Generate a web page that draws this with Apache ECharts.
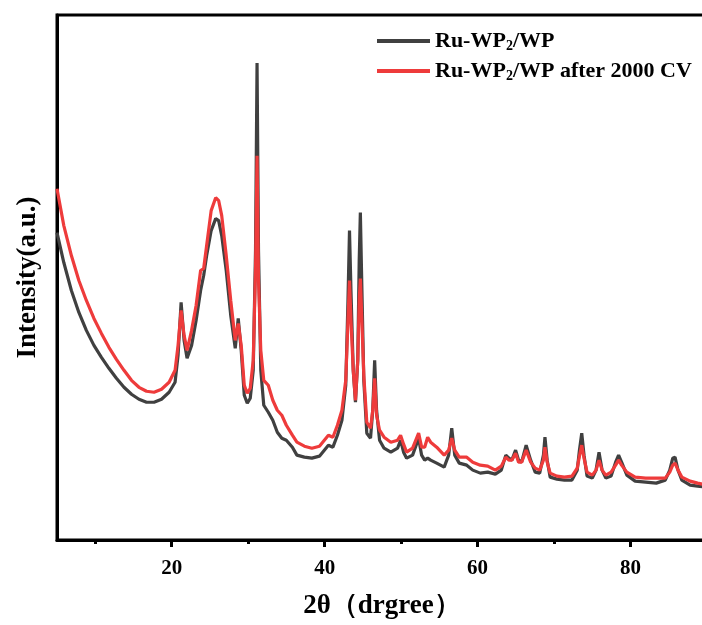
<!DOCTYPE html>
<html>
<head>
<meta charset="utf-8">
<script src="https://cdn.jsdelivr.net/npm/echarts@6/dist/echarts.min.js"></script>
<style>
html,body{margin:0;padding:0;background:#fff;overflow:hidden;}
#chart{width:712px;height:625px;}
</style>
</head>
<body>
<div id="chart"></div>
<script>
// 2θ values (degrees)
var theta = [5,5.89,6.88,7.86,8.84,9.83,10.81,11.79,12.77,13.76,14.74,15.72,16.71,17.69,18.67,19.66,20.44,20.83,21.23,21.62,22.01,22.6,23.19,23.78,24.18,24.57,25.16,25.75,26.14,26.54,27.13,27.72,28.31,28.7,29.09,29.49,29.88,30.27,30.66,30.96,31.16,31.35,31.65,32.04,32.63,33.22,33.81,34.4,34.99,35.78,36.37,37.35,38.33,39.32,40.49,41.08,41.67,42.26,42.76,43.05,43.25,43.44,43.74,44.03,44.33,44.52,44.67,44.82,45.12,45.51,46,46.29,46.54,46.79,47.18,47.77,48.65,49.54,49.93,50.32,50.72,51.5,52.29,52.68,53.08,53.47,53.86,54.65,55.63,56.22,56.62,57.01,57.6,58.58,59.37,60.35,61.33,62.32,63.1,63.69,64.09,64.48,64.97,65.36,65.76,66.35,66.94,67.53,68.12,68.61,68.81,69.1,69.49,70.38,71.36,72.34,73.03,73.32,73.62,73.92,74.31,75,75.49,75.88,76.28,76.77,77.46,78.05,78.44,78.83,79.52,80.6,81.98,83.36,84.54,85.13,85.52,85.82,86.21,86.71,87.79,88.77,90];
// Ru-WP2/WP intensity (a.u.)
var grayIntensity = [308,278,250,228,210,195,183,172,162,153,146,141,138,138,141,148,158,185,238,200,182,195,220,250,265,285,310,322,320,305,270,225,192,222,190,145,137,142,170,290,478,290,170,135,128,120,108,102,100,93,85,83,82,84,95,93,105,120,155,240,310,250,170,138,180,280,328,270,160,107,102,130,180,130,100,92,88,92,100,88,82,85,102,85,80,82,80,77,73,85,112,85,77,75,70,67,68,66,70,85,82,80,90,80,78,95,80,68,67,85,103,80,63,61,60,60,70,90,107,85,64,62,70,88,70,62,64,78,85,78,65,59,58,57,60,70,82,83,70,60,55,54,53];
// Ru-WP2/WP after 2000 CV intensity (a.u.)
var redIntensity = [352,315,285,260,240,222,207,193,181,170,160,153,149,148,151,158,170,195,230,205,190,210,235,270,272,295,330,343,340,325,285,240,200,217,195,155,147,152,180,270,385,260,190,160,155,140,130,125,115,105,98,94,92,94,105,103,115,130,160,220,260,220,170,140,180,240,262,230,165,118,112,130,162,125,110,103,98,100,105,96,88,92,107,93,93,103,98,93,85,90,102,90,83,83,78,75,74,70,74,83,80,80,87,78,78,90,78,72,70,80,93,78,67,64,63,64,72,84,95,82,68,65,70,80,70,65,68,75,80,75,68,63,62,62,62,68,75,77,70,63,59,57,55];
var seriesNames = ['Ru-WP2/WP', 'Ru-WP2/WP after 2000 CV'];
var xTickLabels = [20, 40, 60, 80];
var xMinorTicks = [10, 30, 50, 70];

function pairs(xs, ys) { return xs.map(function (x, i) { return [x, ys[i]]; }); }

var font = "'Liberation Serif', 'Times New Roman', serif";
var grayColor = '#404040', redColor = '#ee3b3b';
var chart = echarts.init(document.getElementById('chart'), null, {renderer: 'canvas'});
chart.setOption({
  animation: false,
  backgroundColor: '#fff',
  grid: {left: 57, right: 5, top: 15, bottom: 85, show: true, borderColor: '#000', borderWidth: 3},
  legend: {
    orient: 'vertical', left: 377, top: 30, padding: 0, itemWidth: 53, itemHeight: 4, itemGap: 7,
    icon: 'rect',
    data: [{name: seriesNames[0], itemStyle: {color: grayColor}}, {name: seriesNames[1], itemStyle: {color: redColor}}],
    textStyle: {fontFamily: font, fontSize: 22, fontWeight: 'bold', color: '#000',
      rich: {
        a: {fontFamily: font, fontSize: 22, fontWeight: 'bold', color: '#000'},
        s: {fontFamily: font, fontSize: 14, fontWeight: 'bold', color: '#000', padding: [10, 0, 0, 0]}
      }},
    formatter: function (n) {
      var parts = n.split('WP2');
      return '{a|' + parts[0] + 'WP}{s|2}{a|' + parts[1] + '}';
    }
  },
  xAxis: [{
    type: 'value', min: 5, max: 90, position: 'bottom',
    name: '2θ（drgree）', nameLocation: 'middle', nameGap: 53,
    nameTextStyle: {fontFamily: font, fontSize: 27, fontWeight: 'bold', color: '#000'},
    axisLine: {lineStyle: {color: '#000', width: 3}},
    axisTick: {customValues: xTickLabels, length: 7, lineStyle: {color: '#000', width: 3}},
    axisLabel: {customValues: xTickLabels, fontFamily: font, fontSize: 21, fontWeight: 'bold', color: '#000', margin: 18},
    splitLine: {show: false}
  }, {
    type: 'value', min: 5, max: 90, position: 'bottom', offset: 0,
    axisLine: {show: false},
    axisTick: {customValues: xMinorTicks, length: 4, lineStyle: {color: '#000', width: 3}},
    axisLabel: {show: false},
    splitLine: {show: false}
  }],
  yAxis: {
    type: 'value', min: 0, max: 526,
    name: 'Intensity(a.u.)', nameLocation: 'middle', nameGap: 15,
    nameTextStyle: {fontFamily: font, fontSize: 27, fontWeight: 'bold', color: '#000'},
    axisLine: {show: true, lineStyle: {color: '#000', width: 3}},
    axisTick: {show: false}, axisLabel: {show: false}, splitLine: {show: false}
  },
  series: [
    {name: seriesNames[0], type: 'line', data: pairs(theta, grayIntensity), symbol: 'none',
     lineStyle: {color: grayColor, width: 3.2}, itemStyle: {color: grayColor}},
    {name: seriesNames[1], type: 'line', data: pairs(theta, redIntensity), symbol: 'none',
     lineStyle: {color: redColor, width: 3.2}, itemStyle: {color: redColor}}
  ]
});
</script>
</body>
</html>
